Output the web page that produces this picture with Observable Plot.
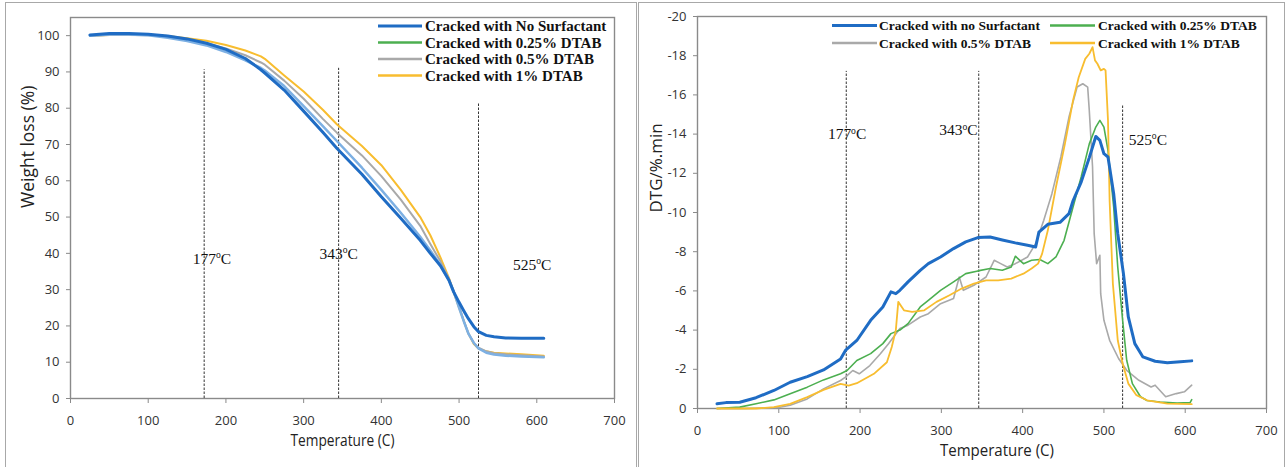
<!DOCTYPE html>
<html>
<head>
<meta charset="utf-8">
<script src="https://cdn.jsdelivr.net/npm/d3@7"></script>
<script src="https://cdn.jsdelivr.net/npm/@observablehq/plot@0.6"></script>
<style>
  body { margin: 0; background: #fff; }
  #wrap { position: relative; width: 1286px; height: 467px; overflow: hidden; background: #fff; }
  .panel { position: absolute; top: 0; }
  .border { position: absolute; border: 1px solid #a8a8a8; box-sizing: border-box; }
  #overlay { position: absolute; left: 0; top: 0; pointer-events: none; }
</style>
</head>
<body>
<div id="wrap">
  <div class="border" style="left:5px;top:2px;width:632px;height:480px;"></div>
  <div class="border" style="left:638px;top:2px;width:647px;height:480px;"></div>
</div>
<script>
// ---------- data ----------
const xTicks = [0, 100, 200, 300, 400, 500, 600, 700];
const tgaYTicks = [0, 10, 20, 30, 40, 50, 60, 70, 80, 90, 100];
const dtgYTicks = [0, -2, -4, -6, -8, -10, -12, -14, -16, -18, -20];

const tgaSeries = ["Cracked with No Surfactant", "Cracked with 0.25% DTAB", "Cracked with 0.5% DTAB", "Cracked with 1% DTAB"];
const dtgSeries = ["Cracked with no Surfactant", "Cracked with 0.25% DTAB", "Cracked with 0.5% DTAB", "Cracked with 1% DTAB"];

// TGA (weight %), common temperature grid
const tgaTemp     = [25, 50, 75, 100, 125, 150, 175, 200, 225, 245, 250, 275, 300, 325, 343, 375, 400, 425, 450, 463, 476, 487, 493, 500, 506, 512, 519, 525, 535, 545, 560, 580, 609];
const tgaNoSurf   = [100.2, 100.6, 100.6, 100.4, 99.9, 99.1, 97.9, 96.2, 93.7, 90.6, 89.7, 85.0, 79.2, 73.3, 68.9, 61.8, 55.6, 49.7, 43.6, 40.0, 36.6, 32.6, 29.4, 26.5, 24.2, 22.0, 19.8, 18.4, 17.4, 17.0, 16.7, 16.6, 16.6];
const tgaDtab025  = [100.0, 100.3, 100.3, 100.1, 99.4, 98.5, 97.3, 95.5, 93.2, 91.1, 90.4, 86.1, 80.6, 75.0, 70.9, 63.6, 57.5, 51.2, 44.6, 40.8, 36.8, 32.5, 29.5, 25.0, 21.3, 17.9, 15.3, 13.8, 12.6, 12.1, 11.8, 11.6, 11.4];
const tgaDtab05   = [100.0, 100.2, 100.2, 100.1, 99.7, 99.0, 97.9, 96.5, 94.6, 92.6, 92.0, 87.6, 82.6, 77.0, 73.2, 67.0, 61.3, 54.8, 47.6, 42.6, 37.8, 33.0, 29.6, 25.5, 21.5, 17.9, 15.3, 14.0, 13.0, 12.5, 12.2, 11.9, 11.6];
const tgaDtab1    = [100.0, 100.2, 100.3, 100.3, 99.9, 99.3, 98.6, 97.4, 95.9, 94.3, 93.6, 89.0, 84.6, 79.5, 75.5, 69.6, 64.3, 57.5, 50.0, 45.0, 38.9, 33.2, 29.3, 25.0, 21.4, 17.9, 15.0, 13.8, 13.0, 12.6, 12.4, 12.2, 11.8];

// DTG (%/min) as [temperature, value]
const dtgNoSurf = [[24,-0.24],[35,-0.3],[52,-0.32],[72,-0.55],[94,-0.92],[114,-1.34],[135,-1.63],[155,-1.97],[176,-2.53],[182,-2.96],[196,-3.47],[213,-4.5],[228,-5.18],[238,-5.95],[244,-5.86],[249,-6.03],[259,-6.46],[274,-7.05],[284,-7.39],[299,-7.73],[315,-8.16],[330,-8.5],[345,-8.72],[360,-8.75],[375,-8.6],[391,-8.45],[406,-8.33],[416,-8.24],[420,-9.0],[431,-9.4],[446,-9.5],[457,-9.94],[462,-10.6],[472,-11.55],[482,-12.8],[490,-13.88],[495,-13.68],[500,-13.0],[505,-12.83],[512,-10.96],[517,-8.92],[524,-6.88],[530,-4.67],[538,-3.31],[548,-2.63],[563,-2.41],[578,-2.33],[594,-2.38],[608,-2.43]];
const dtgDtab025 = [[24,0],[52,-0.07],[72,-0.24],[94,-0.44],[114,-0.75],[135,-1.09],[155,-1.46],[176,-1.77],[184,-1.94],[196,-2.45],[213,-2.8],[228,-3.31],[238,-3.82],[249,-4.0],[259,-4.33],[274,-5.18],[284,-5.52],[299,-6.03],[315,-6.46],[330,-6.88],[345,-7.02],[360,-7.14],[375,-7.05],[386,-7.22],[391,-7.77],[401,-7.39],[411,-7.56],[421,-7.6],[431,-7.39],[441,-7.73],[451,-8.58],[462,-10.28],[472,-11.81],[482,-13.5],[490,-14.36],[495,-14.7],[500,-14.36],[505,-13.17],[512,-10.28],[517,-7.22],[523,-4.5],[528,-2.46],[535,-1.27],[545,-0.6],[553,-0.41],[569,-0.33],[590,-0.28],[606,-0.3],[608,-0.45]];
const dtgDtab05 = [[24,0],[60,0],[100,-0.05],[114,-0.17],[135,-0.49],[155,-1.0],[176,-1.43],[182,-1.6],[191,-1.94],[199,-1.77],[212,-2.19],[225,-2.79],[235,-3.3],[249,-4.08],[259,-4.25],[274,-4.67],[284,-4.84],[299,-5.35],[315,-5.61],[322,-6.71],[327,-6.03],[340,-6.29],[355,-6.71],[365,-7.56],[373,-7.39],[381,-7.22],[391,-7.39],[406,-7.73],[416,-8.41],[426,-9.6],[436,-10.96],[447,-12.83],[457,-14.87],[467,-16.4],[474,-16.57],[480,-16.4],[482,-15.2],[486,-12.32],[488,-8.92],[491,-7.39],[495,-7.82],[496,-5.86],[500,-4.5],[507,-3.48],[518,-2.55],[528,-1.95],[543,-1.44],[558,-1.1],[563,-1.19],[576,-0.6],[589,-0.76],[599,-0.85],[608,-1.19]];
const dtgDtab1 = [[24,0],[50,0],[72,0],[94,-0.07],[114,-0.24],[135,-0.58],[155,-0.95],[176,-1.26],[186,-1.17],[196,-1.29],[217,-1.77],[233,-2.36],[239,-3.14],[244,-4.0],[247,-5.44],[254,-5.01],[264,-4.93],[279,-5.01],[294,-5.44],[310,-5.78],[325,-6.12],[340,-6.37],[355,-6.54],[370,-6.54],[386,-6.63],[401,-6.88],[411,-7.14],[419,-7.39],[424,-7.9],[431,-9.09],[441,-11.3],[452,-13.5],[462,-15.72],[469,-16.9],[477,-17.84],[482,-18.1],[486,-18.44],[489,-17.76],[492,-17.59],[496,-17.25],[500,-17.33],[502,-17.25],[505,-14.7],[507,-10.6],[511,-6.37],[517,-3.48],[523,-2.29],[530,-1.27],[540,-0.68],[553,-0.42],[578,-0.25],[608,-0.22]];

// characteristic temperatures (label) and where they are marked
const eventLabels = [177, 343, 525];
const tgaEventX   = [172, 345, 525];
const tgaEventTop = [90.6, 91, 81.5];
const tgaLabelX   = [182, 345, 594];
const tgaLabelY   = [38.5, 39.9, 36.9];
const dtgEventX   = [183, 346, 523];
const dtgEventTop = [-17.2, -17.2, -15.5];
const dtgLabelX   = [184, 321, 554];
const dtgLabelY   = [-14.0, -14.2, -13.7];

// ---------- styles ----------
const BLUE = "#1f6cc4", LIGHTBLUE = "#7db0e3", GREEN = "#4caf50", GRAY = "#a9a9a9", YELLOW = "#f8bd2f";
const tgaLineColors   = [BLUE, LIGHTBLUE, GRAY, YELLOW];
const tgaLegendColors = [BLUE, GREEN, GRAY, YELLOW];
const dtgColors       = [BLUE, GREEN, GRAY, YELLOW];
const sansFont  = "'Open Sans', 'Liberation Sans', sans-serif";
const serifFont = "'Liberation Serif', 'Times New Roman', serif";

const wrap = document.getElementById("wrap");

// ---------- TGA panel ----------
const tgaValues = [tgaNoSurf, tgaDtab025, tgaDtab05, tgaDtab1];
const tgaRows = tgaValues.map(vals => tgaTemp.map((t, i) => ({t, w: vals[i]})));
const tgaEvents = eventLabels.map((lab, i) => ({x: tgaEventX[i], top: tgaEventTop[i], lx: tgaLabelX[i], ly: tgaLabelY[i], label: lab}));

const tgaWidths = [3, 2.5, 2, 2];
const tgaOrder = [3, 2, 1, 0];

const tga = Plot.plot({
  width: 638, height: 467,
  marginLeft: 70, marginRight: 24, marginTop: 17, marginBottom: 69,
  style: {fontFamily: sansFont, fontSize: "13px", color: "#333", background: "transparent", overflow: "visible"},
  x: {domain: [0, 700]},
  y: {domain: [0, 105]},
  marks: [
    Plot.frame({stroke: "#8a8a8a", strokeWidth: 1.4}),
    Plot.axisX({ticks: xTicks, tickSize: 5, tickPadding: 12, label: null, stroke: "#8a8a8a", color: "#333", tickFormat: d => String(d)}),
    Plot.axisY({ticks: tgaYTicks, tickSize: 4, tickPadding: 7, label: null, stroke: "#8a8a8a", color: "#333", tickFormat: d => String(d)}),
    Plot.ruleX(tgaEvents, {x: "x", y1: 0, y2: "top", stroke: "#333", strokeWidth: 1, strokeDasharray: "2.5,1.5"}),
    ...tgaOrder.map(k => Plot.line(tgaRows[k], {x: "t", y: "w", stroke: tgaLineColors[k], strokeWidth: tgaWidths[k]})),
    Plot.text(tgaEvents, {x: "lx", y: "ly", text: d => d.label + "oC", fontFamily: serifFont, fontSize: 15.5, fill: "#111"}),
    Plot.text(["Temperature (C)"], {frameAnchor: "bottom", dy: 47, text: d => d, fontSize: 16, fill: "#222"}),
    Plot.text(["Weight loss (%)"], {frameAnchor: "left", dx: -42.5, rotate: -90, text: d => d, fontSize: 17.5, fill: "#222"})
  ]
});
tga.classList.add("panel");
tga.style.left = "0px";
wrap.appendChild(tga);

// ---------- DTG panel ----------
const dtgValues = [dtgNoSurf, dtgDtab025, dtgDtab05, dtgDtab1];
const dtgRows = dtgValues.map(arr => arr.map(([t, v]) => ({t, v})));
const dtgEvents = eventLabels.map((lab, i) => ({x: dtgEventX[i], top: dtgEventTop[i], lx: dtgLabelX[i], ly: dtgLabelY[i], label: lab}));
const dtgWidths = [3, 1.6, 1.6, 1.8];
const dtgOrder = [2, 1, 3, 0];

const dtg = Plot.plot({
  width: 646, height: 467,
  marginLeft: 57, marginRight: 20, marginTop: 16, marginBottom: 59,
  style: {fontFamily: sansFont, fontSize: "13px", color: "#333", background: "transparent", overflow: "visible"},
  x: {domain: [0, 700]},
  y: {domain: [0, -20]},
  marks: [
    Plot.frame({stroke: "#8a8a8a", strokeWidth: 1.4}),
    Plot.axisX({ticks: xTicks, tickSize: 5, tickPadding: 12, label: null, stroke: "#8a8a8a", color: "#333", tickFormat: d => String(d)}),
    Plot.axisY({ticks: dtgYTicks, tickSize: 4, tickPadding: 7, label: null, stroke: "#8a8a8a", color: "#333", tickFormat: d => String(d)}),
    Plot.ruleX(dtgEvents, {x: "x", y1: 0, y2: "top", stroke: "#333", strokeWidth: 1, strokeDasharray: "2.5,1.5"}),
    ...dtgOrder.map(k => Plot.line(dtgRows[k], {x: "t", y: "v", stroke: dtgColors[k], strokeWidth: dtgWidths[k]})),
    Plot.text(dtgEvents, {x: "lx", y: "ly", text: d => d.label + "oC", fontFamily: serifFont, fontSize: 15.5, fill: "#111"}),
    Plot.text(["Temperature (C)"], {frameAnchor: "bottom", dx: 15, dy: 47, text: d => d, fontSize: 16, fill: "#222"}),
    Plot.text(["DTG/%.min"], {frameAnchor: "left", dx: -40.5, rotate: -90, text: d => d, fontSize: 17, fill: "#222"})
  ]
});
dtg.classList.add("panel");
dtg.style.left = "640px";
wrap.appendChild(dtg);

// superscript "o" in the event labels, condensed x-titles
for (const svg of [tga, dtg]) {
  d3.select(svg).selectAll("text").filter(function () { return /^\d+oC$/.test(this.textContent); }).each(function () {
    const num = this.textContent.replace("oC", "");
    const t = d3.select(this);
    t.text(null);
    t.append("tspan").text(num);
    t.append("tspan").attr("dy", -5.5).attr("font-size", "0.62em").text("o");
    t.append("tspan").attr("dy", 5.5).text("C");
  });
}
d3.select(tga).selectAll("text").filter(function () { return this.textContent === "Temperature (C)"; })
  .attr("textLength", 104).attr("lengthAdjust", "spacingAndGlyphs");
d3.select(dtg).selectAll("text").filter(function () { return this.textContent === "Temperature (C)"; })
  .attr("textLength", 114).attr("lengthAdjust", "spacingAndGlyphs");

// ---------- legends ----------
const overlay = d3.select(wrap).append("svg").attr("id", "overlay").attr("width", 1286).attr("height", 467);

const tgaLegendRows = [26, 42.5, 59, 75.5];
tgaSeries.forEach((name, i) => {
  const g = overlay.append("g");
  g.append("line").attr("x1", 378).attr("x2", 422).attr("y1", tgaLegendRows[i]).attr("y2", tgaLegendRows[i])
    .attr("stroke", tgaLegendColors[i]).attr("stroke-width", i === 0 ? 3 : 2.5);
  g.append("text").attr("x", 425).attr("y", tgaLegendRows[i]).attr("dy", "0.35em")
    .attr("font-family", serifFont).attr("font-weight", "bold").attr("font-size", 15).attr("fill", "#111").text(name);
});

const dtgLegendPos = [[832, 877, 879, 25.5], [1050, 1095, 1098, 25.5], [832, 877, 879, 43], [1050, 1095, 1098, 43]];
dtgSeries.forEach((name, i) => {
  const [a, b, tx, y] = dtgLegendPos[i];
  const g = overlay.append("g");
  g.append("line").attr("x1", a).attr("x2", b).attr("y1", y).attr("y2", y)
    .attr("stroke", dtgColors[i]).attr("stroke-width", i === 0 ? 3 : 2.5);
  g.append("text").attr("x", tx).attr("y", y).attr("dy", "0.35em")
    .attr("font-family", serifFont).attr("font-weight", "bold").attr("font-size", 13.5).attr("fill", "#111").text(name);
});
</script>
</body>
</html>
